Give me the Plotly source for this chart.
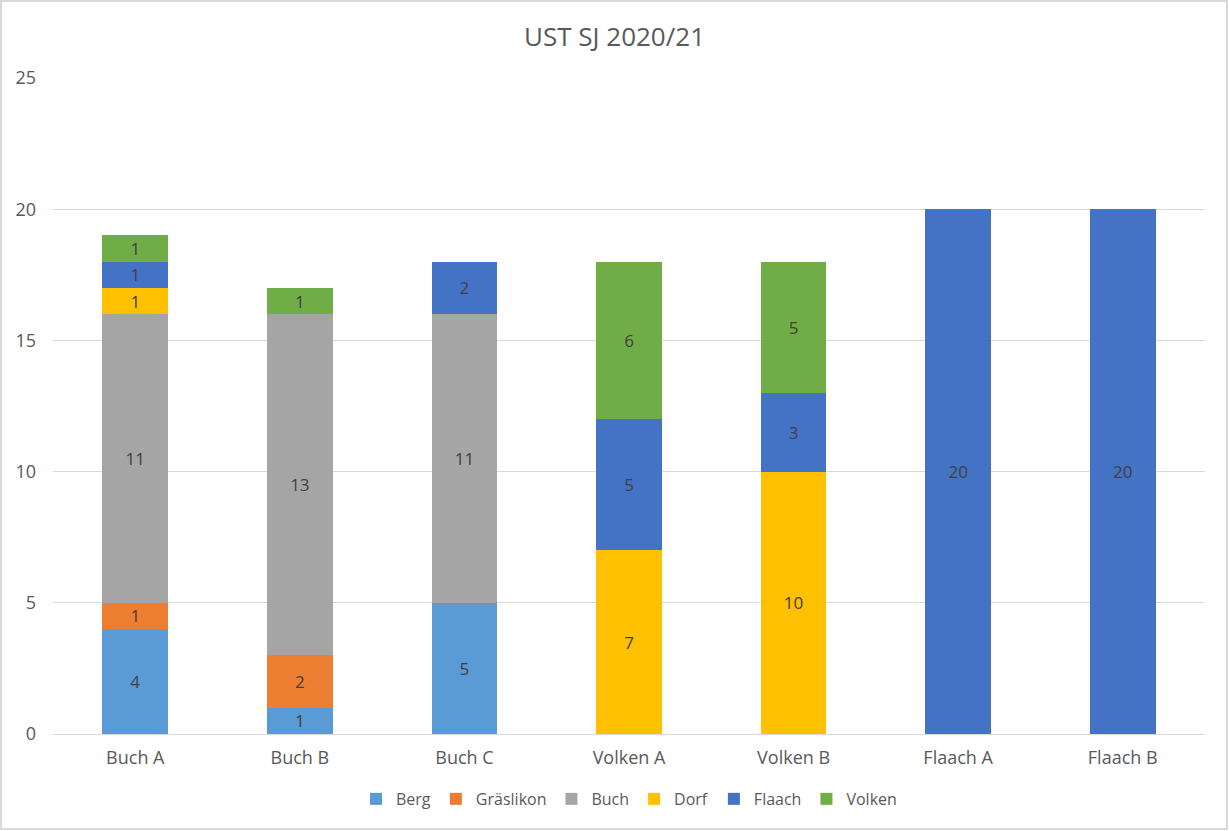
import plotly.graph_objects as go

classes = ['Buch A', 'Buch B', 'Buch C', 'Volken A', 'Volken B', 'Flaach A', 'Flaach B']

berg = [4, 1, 5, 0, 0, 0, 0]
graeslikon = [1, 2, 0, 0, 0, 0, 0]
buch = [11, 13, 11, 0, 0, 0, 0]
dorf = [1, 0, 0, 7, 10, 0, 0]
flaach = [1, 0, 2, 5, 3, 20, 20]
volken = [1, 1, 0, 6, 5, 0, 0]

series = [
    ('Berg', berg, '#5B9BD5'),
    ('Gräslikon', graeslikon, '#ED7D31'),
    ('Buch', buch, '#A5A5A5'),
    ('Dorf', dorf, '#FFC000'),
    ('Flaach', flaach, '#4472C4'),
    ('Volken', volken, '#70AD47'),
]

FONT = 'Open Sans'

fig = go.Figure()
for name, vals, color in series:
    fig.add_trace(go.Bar(
        x=classes, y=vals, name=name,
        marker=dict(color=color, line=dict(width=0)),
        text=[str(v) if v else '' for v in vals],
        textposition='inside', insidetextanchor='middle',
        textangle=0, constraintext='none',
        textfont=dict(family=FONT, size=17, color='#404040'),
    ))

fig.update_layout(
    barmode='stack',
    bargap=0.6,
    width=1229, height=831,
    margin=dict(l=53, r=24, t=78, b=97),
    paper_bgcolor='white', plot_bgcolor='white',
    font=dict(family=FONT, color='#595959'),
    title=dict(text='UST SJ 2020/21', x=0.5, xanchor='center',
               y=1 - 37 / 831, yanchor='middle',
               font=dict(family=FONT, size=26, color='#595959')),
    xaxis=dict(showgrid=False, showline=False, ticks='',
               tickfont=dict(size=18, color='#595959'), ticklabelstandoff=11),
    yaxis=dict(range=[0, 25], dtick=5, showgrid=True, gridcolor='#D9D9D9',
               gridwidth=1, zeroline=True, zerolinecolor='#D9D9D9',
               zerolinewidth=1, showline=False, ticks='',
               tickfont=dict(size=18, color='#595959'), ticklabelstandoff=16),
    legend=dict(orientation='h', x=0.5, xanchor='center',
                y=-0.099, yanchor='middle',
                font=dict(size=16, color='#595959'),
                itemwidth=30, traceorder='normal'),
    shapes=[dict(type='rect', xref='paper', yref='paper',
                 x0=-52 / 1152, x1=1 + 22 / 1152,
                 y0=-95 / 656, y1=1 + 77 / 656,
                 line=dict(color='#D9D9D9', width=2), layer='below')],
)

fig.write_html('out.html', config={'displayModeBar': False},
               post_script="document.body.style.margin='0';")
